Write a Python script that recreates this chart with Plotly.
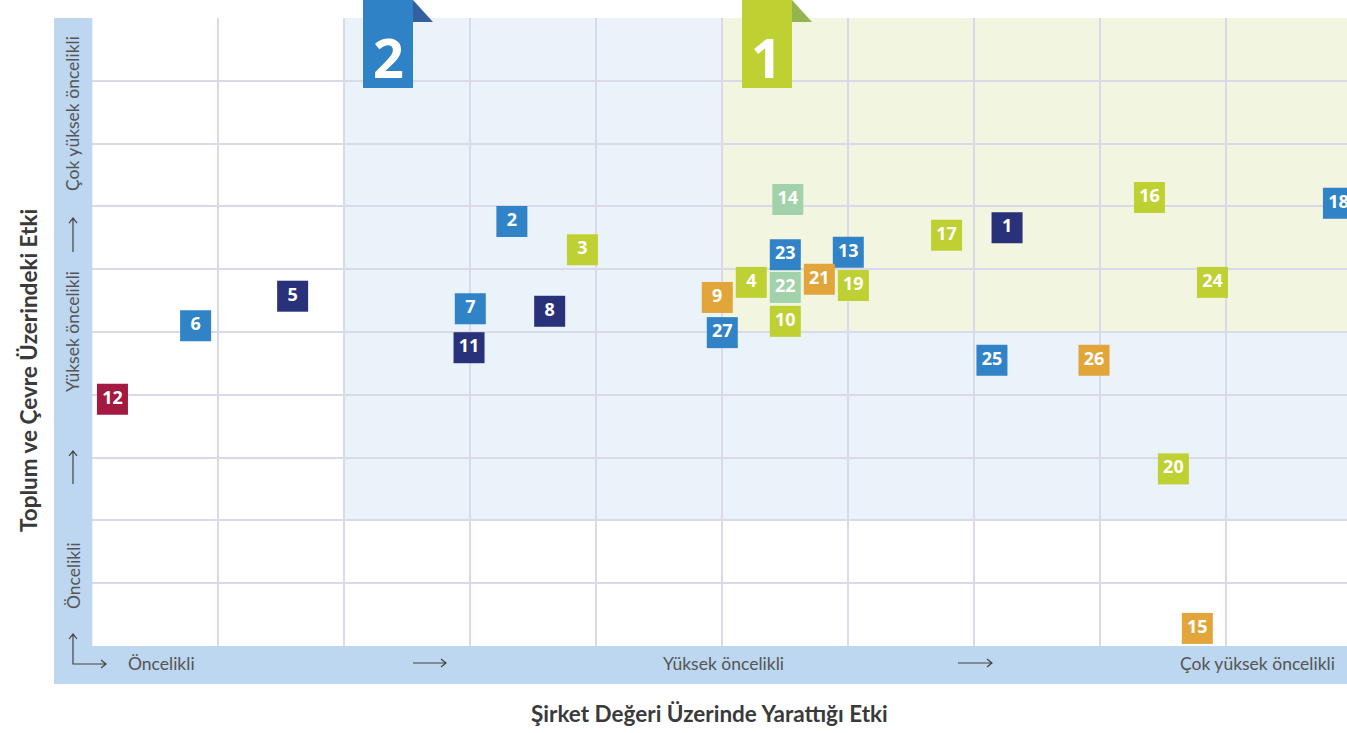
import plotly.graph_objects as go

W, H = 1347, 733

# ---- data ----
ids = [1, 2, 3, 4, 5, 6, 7, 8, 9, 10, 11, 12, 13, 14, 15, 16, 17, 18, 19, 20,
       21, 22, 23, 24, 25, 26, 27]
x_vals = [7.26, 3.33, 3.89, 5.23, 1.59, 0.82, 3.00, 3.63, 4.96, 5.50, 2.99, 0.16,
          6.00, 5.52, 8.77, 8.39, 6.78, 9.89, 6.04, 8.58, 5.77, 5.50, 5.50, 8.89,
          7.14, 7.95, 5.00]
y_vals = [6.66, 6.76, 6.31, 5.79, 5.57, 5.10, 5.37, 5.33, 5.55, 5.17, 4.75, 3.93,
          6.27, 7.11, 0.28, 7.14, 6.54, 7.05, 5.74, 2.82, 5.84, 5.71, 6.23, 5.79,
          4.55, 4.55, 4.99]
groups = ["navy", "blue", "lime", "lime", "navy", "blue", "blue", "navy", "orange",
          "lime", "navy", "crimson", "blue", "mint", "orange", "lime", "lime", "blue",
          "lime", "lime", "orange", "mint", "blue", "lime", "blue", "orange", "blue"]
palette = {"navy": "#28317a", "blue": "#3083c6", "lime": "#bfd033",
           "orange": "#e1a53a", "mint": "#a2d2aa", "crimson": "#a3193f"}

x_levels = ["Öncelikli", "Yüksek öncelikli", "Çok yüksek öncelikli"]
y_levels = ["Öncelikli", "Yüksek öncelikli", "Çok yüksek öncelikli"]
x_title = "Şirket Değeri Üzerinde Yarattığı Etki"
y_title = "Toplum ve Çevre Üzerindeki Etki"
tabs = ["2", "1"]

# ---- layout helpers ----
PL, PR, PT, PB = 92.3, W, 18, 646
def X(px):
    return px / W
def Y(py):
    return 1 - py / H

XMAX = (PR - PL) / 126.0

fig = go.Figure()
fig.add_trace(go.Scatter(
    x=x_vals, y=y_vals, mode="markers+text",
    text=[str(i) for i in ids], textposition="middle center",
    textfont=dict(family="Noto Sans", size=18, color="white", weight="bold"),
    marker=dict(symbol="square", size=31, color=[palette[g] for g in groups],
                line=dict(width=0)),
    hoverinfo="skip", showlegend=False, cliponaxis=True,
))

shapes = []
# priority regions
shapes.append(dict(type="rect", xref="x", yref="y", x0=2, x1=XMAX, y0=2, y1=10,
                   fillcolor="#eaf2fa", line=dict(width=0), layer="below"))
shapes.append(dict(type="rect", xref="x", yref="y", x0=5, x1=XMAX, y0=5, y1=10,
                   fillcolor="#f2f6e0", line=dict(width=0), layer="below"))
# bands
band = "#bcd7ef"
shapes.append(dict(type="rect", xref="paper", yref="paper", x0=X(54), x1=X(PL),
                   y0=Y(684), y1=Y(18), fillcolor=band, line=dict(width=0)))
shapes.append(dict(type="rect", xref="paper", yref="paper", x0=X(54), x1=X(W),
                   y0=Y(684), y1=Y(646), fillcolor=band, line=dict(width=0)))

# arrows
def path_px(cmds):
    out = []
    for c in cmds:
        if isinstance(c, str):
            out.append(c)
        else:
            out.append(f"{X(c[0]):.5f},{Y(c[1]):.5f}")
    return " ".join(out)

acol = "#444444"
def harrow(x0, x1, y):
    return path_px(["M", (x0, y), "L", (x1, y), "M", (x1 - 5, y - 4), "L", (x1, y), "L", (x1 - 5, y + 4)])
def varrow(x, y0, y1):
    # y0 bottom, y1 top (arrow head at top)
    return path_px(["M", (x, y0), "L", (x, y1), "M", (x - 4, y1 + 5), "L", (x, y1), "L", (x + 4, y1 + 5)])

for p in [harrow(413, 446, 663), harrow(958, 992, 663), varrow(73, 252, 218),
          varrow(73, 484, 451),
          path_px(["M", (73, 634), "L", (73, 664), "L", (106, 664),
                   "M", (101, 660), "L", (106, 664), "L", (101, 668),
                   "M", (69, 639), "L", (73, 634), "L", (77, 639)])]:
    shapes.append(dict(type="path", xref="paper", yref="paper", path=p,
                       line=dict(color=acol, width=1.2)))

# tabs
tab_boxes = [(363, 413, "#2f82c5", "#35609f"), (742, 792, "#bfd033", "#93b54f")]
for (x0, x1, c, fc) in tab_boxes:
    shapes.append(dict(type="rect", xref="paper", yref="paper", x0=X(x0), x1=X(x1),
                       y0=Y(88), y1=Y(0), fillcolor=c, line=dict(width=0)))
    shapes.append(dict(type="path", xref="paper", yref="paper",
                       path=path_px(["M", (x1, 0), "L", (x1 + 20, 22), "L", (x1, 22), "Z"]),
                       fillcolor=fc, line=dict(width=0)))

annotations = []
for (x0, x1, c, fc), t in zip(tab_boxes, tabs):
    annotations.append(dict(xref="paper", yref="paper", x=X((x0 + x1) / 2), y=Y(57),
                            text=t, showarrow=False, xanchor="center", yanchor="middle",
                            font=dict(family="Noto Sans", size=54, color="white", weight="bold")))

lab_font = dict(family="Lato", size=17.5, color="#555555")
for t, px in zip(x_levels, [161, 723, 1257]):
    annotations.append(dict(xref="paper", yref="paper", x=X(px), y=Y(663), text=t,
                            showarrow=False, xanchor="center", yanchor="middle", font=lab_font))
for t, py in zip(y_levels, [576, 332, 114]):
    annotations.append(dict(xref="paper", yref="paper", x=X(73), y=Y(py), text=t,
                            showarrow=False, xanchor="center", yanchor="middle",
                            textangle=-90, font=lab_font))

title_font = dict(family="Lato", size=22.5, color="#3a3a3a", weight="bold")
annotations.append(dict(xref="paper", yref="paper", x=X(709), y=Y(713), text=x_title,
                        showarrow=False, xanchor="center", yanchor="middle", font=title_font))
annotations.append(dict(xref="paper", yref="paper", x=X(28), y=Y(371), text=y_title,
                        showarrow=False, xanchor="center", yanchor="middle",
                        textangle=-90, font=title_font))

grid = "#dad9ea"
fig.update_layout(
    width=W, height=H, margin=dict(l=0, r=0, t=0, b=0),
    paper_bgcolor="white", plot_bgcolor="white",
    shapes=shapes, annotations=annotations,
    xaxis=dict(domain=[X(PL), 1], range=[0, XMAX], dtick=1, tick0=0,
               showgrid=True, gridcolor=grid, gridwidth=1.5, zeroline=False,
               showticklabels=False, ticks="", showline=False, fixedrange=True),
    yaxis=dict(domain=[Y(PB), Y(PT)], range=[0, 10], dtick=1, tick0=0,
               showgrid=True, gridcolor=grid, gridwidth=1.5, zeroline=False,
               showticklabels=False, ticks="", showline=False, fixedrange=True),
)

fig.write_html("out.html", config={"displayModeBar": False},
               post_script="document.body.style.margin='0';")
